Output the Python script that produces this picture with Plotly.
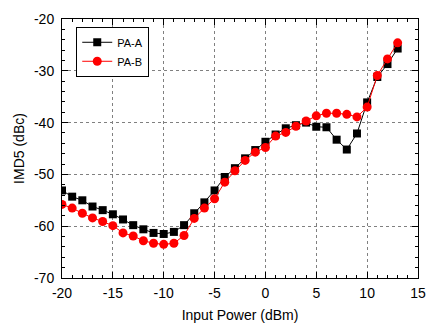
import plotly.graph_objects as go

input_power = list(range(-20, 14))
pa_a = [-53.1, -54.3, -55.0, -56.2, -56.9, -57.7, -58.7, -59.8, -60.6, -61.3,
        -61.5, -61.1, -59.8, -57.5, -55.4, -53.1, -50.5, -48.8, -46.9, -45.3,
        -43.7, -42.3, -41.1, -40.5, -40.0, -40.8, -40.9, -43.3, -45.2, -42.1,
        -36.1, -31.2, -28.7, -25.7]
pa_b = [-55.8, -56.5, -57.5, -58.4, -59.1, -59.9, -61.3, -61.9, -62.8, -63.3,
        -63.5, -63.3, -61.8, -58.5, -56.5, -54.7, -51.5, -49.3, -47.3, -45.7,
        -44.8, -42.6, -41.9, -40.7, -39.7, -38.7, -38.2, -38.2, -38.4, -38.9,
        -37.0, -30.9, -27.7, -24.6]

x_ticks = [-20, -15, -10, -5, 0, 5, 10, 15]
x_tick_text = ["-20", "-15", "-10", "-5", "0", "5", "10", "15"]
y_ticks = [-70, -60, -50, -40, -30, -20]
y_tick_text = ["-70", "-60", "-50", "-40", "-30", "-20"]

fig = go.Figure()
fig.add_trace(go.Scatter(x=input_power, y=pa_a, name="PA-A", mode="lines+markers",
                         line=dict(color="black", width=1),
                         marker=dict(symbol="square", size=8, color="black")))
fig.add_trace(go.Scatter(x=input_power, y=pa_b, name="PA-B", mode="lines+markers",
                         line=dict(color="red", width=1),
                         marker=dict(symbol="circle", size=9, color="red")))

font = "Liberation Sans, Arial, sans-serif"
axis_common = dict(
    showline=True, linecolor="black", linewidth=1, mirror="allticks",
    ticks="inside", ticklen=6, tickcolor="black", tickwidth=1,
    showgrid=True, gridcolor="#808080", griddash="dot", gridwidth=1,
    zeroline=False, tickfont=dict(family=font, size=14, color="black"),
    title_font=dict(family=font, size=14, color="black"),
)

fig.update_xaxes(range=[-20, 15], tickmode="array", tickvals=x_ticks, ticktext=x_tick_text,
                 title_text="Input Power (dBm)", title_standoff=10,
                 minor=dict(dtick=1, tick0=0, ticks="inside", ticklen=3, tickcolor="black", showgrid=False),
                 ticklabelstandoff=2, **axis_common)
fig.update_yaxes(range=[-70, -20], tickmode="array", tickvals=y_ticks, ticktext=y_tick_text,
                 title_text="IMD5 (dBc)", title_standoff=6,
                 minor=dict(dtick=2, tick0=0, ticks="inside", ticklen=3, tickcolor="black", showgrid=False),
                 ticklabelstandoff=4, **axis_common)

fig.update_layout(
    width=435, height=330,
    margin=dict(l=62, r=9, t=19, b=46),
    plot_bgcolor="white", paper_bgcolor="white",
    font=dict(family=font, size=14, color="black"),
    showlegend=True,
    legend=dict(x=0.04, y=0.97, xanchor="left", yanchor="top",
                bordercolor="black", borderwidth=1, bgcolor="white",
                font=dict(family=font, size=11, color="black"),
                itemwidth=30, tracegroupgap=0),
)

fig.write_html("out.html")
